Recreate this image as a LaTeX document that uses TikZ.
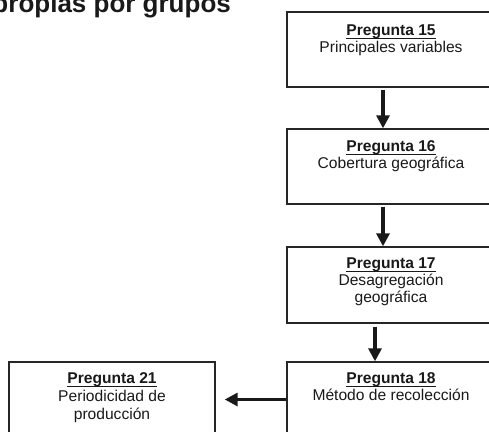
\documentclass[tikz,border=0pt]{standalone}
\usepackage{fontspec}
\setmainfont{Liberation Sans}
\usetikzlibrary{arrows.meta}
\newcommand\qul[1]{\setbox0\hbox{#1}\rlap{\rule[-3.5pt]{\wd0}{1.4pt}}\box0}
\tikzset{
  box/.style={draw=black!85, line width=1.4pt, inner sep=0pt, minimum height=75pt},
  txt/.style={anchor=north, inner sep=0pt, align=center, text=black!90,
              font=\fontsize{15.6}{17}\selectfont},
  arr/.style={line width=3.2pt, draw=black!90,
              -{Triangle[width=13pt,length=13pt]}}
}
\begin{document}
\begin{tikzpicture}[x=1pt,y=-1pt]
\useasboundingbox (0,0) rectangle (489,431);
% title (cropped)
\node[anchor=base west, inner sep=0pt, text=black!90,
      font=\fontsize{26}{28}\selectfont\bfseries] (title) at (-7.7,12.5) {propias por grupos};
% boxes
\node[box, minimum width=208pt] (b15) at (391,49.5) {};
\node[box, minimum width=208pt] (b16) at (391,166.5) {};
\node[box, minimum width=208pt, minimum height=76pt] (b17) at (391,285) {};
\node[box, minimum width=208pt] (b18) at (391,399.5) {};
\node[box, minimum width=206pt] (b21) at (112,399.5) {};
% texts
\node[txt] (t15) at (391,24.8) {\qul{\textbf{Pregunta 15}}\\Principales variables};
\node[txt] (t16) at (391,140.8) {\qul{\textbf{Pregunta 16}}\\Cobertura geográfica};
\node[txt] (t17) at (391,257.8) {\qul{\textbf{Pregunta 17}}\\Desagregación\\geográfica};
\node[txt] (t18) at (391,372.8) {\qul{\textbf{Pregunta 18}}\\Método de recolección};
\node[txt, font=\fontsize{15.6}{18}\selectfont] (t21) at (112,372.8) {\qul{\textbf{Pregunta 21}}\\Periodicidad de\\producción};
% connectors
\draw[arr, shorten <=2pt] ([xshift=-8pt]b15.south) -- ([xshift=-8pt]b16.north);
\draw[arr, shorten <=2pt] ([xshift=-8pt]b16.south) -- ([xshift=-8pt]b17.north);
\draw[arr, shorten <=3pt] ([xshift=-16pt]b17.south) -- ([xshift=-16pt]b18.north);
\draw[arr, shorten >=9pt] (b18.west) -- (b21.east);
\end{tikzpicture}
\end{document}
